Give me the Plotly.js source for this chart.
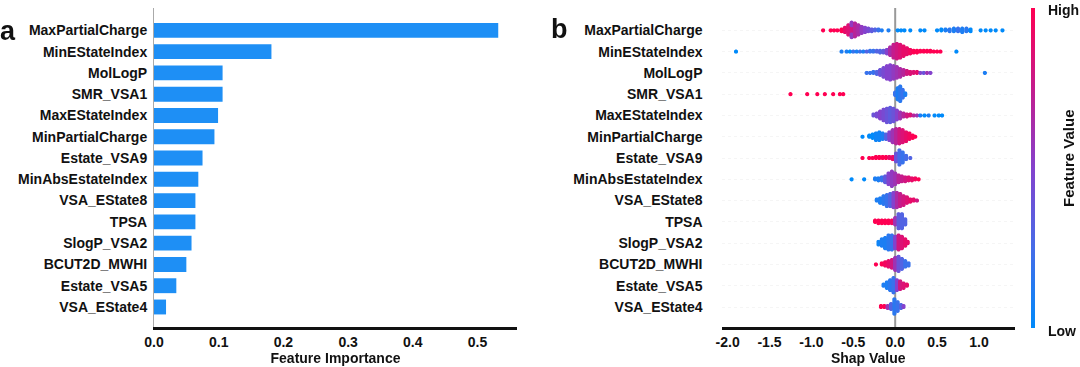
<!DOCTYPE html>
<html>
<head>
<meta charset="utf-8">
<script src="https://cdn.plot.ly/plotly-3.0.1.min.js"></script>
<style>html,body{margin:0;padding:0;background:#fff;}#chart{width:1080px;height:367px;}</style>
</head>
<body>
<div id="chart"></div>
<script>
// ---------- DATA ----------
const features = ['MaxPartialCharge','MinEStateIndex','MolLogP','SMR_VSA1','MaxEStateIndex','MinPartialCharge','Estate_VSA9','MinAbsEstateIndex','VSA_EState8','TPSA','SlogP_VSA2','BCUT2D_MWHI','Estate_VSA5','VSA_EState4'];
const importance = [0.532,0.1815,0.106,0.106,0.099,0.0934,0.075,0.0685,0.064,0.064,0.058,0.050,0.0345,0.0186];

const importanceTicks = [0,0.1,0.2,0.3,0.4,0.5];
const importanceTickText = ['0.0','0.1','0.2','0.3','0.4','0.5'];
const shapTicks = [-2,-1.5,-1,-0.5,0,0.5,1];
const shapTickText = ['-2.0','-1.5','-1.0','-0.5','0.0','0.5','1.0'];

// SHAP values read from the beeswarm: [shap value, number of points, feature value (0 low .. 1 high)]
const shapMaxPartialCharge = [[-0.86,1,1],[-0.77,1,1],[-0.73,1,1],[-0.69,1,1],[-0.64,3,1],[-0.60,6,0.9],[-0.56,12,0.85],[-0.52,10,0.8],[-0.52,8,0.55],[-0.48,16,0.7],[-0.44,12,0.65],[-0.40,8,0.55],[-0.36,6,0.5],[-0.32,4,0.45],[-0.28,3,0.35],[-0.24,2,0.3],[-0.20,2,0.2],[-0.16,1,0.1],[-0.08,1,0.1],[0.03,1,0],[0.07,1,0],[0.11,1,0],[0.18,1,0],[0.30,1,0],[0.35,1,0],[0.50,1,0],[0.55,2,0],[0.60,2,0.1],[0.65,3,0.15],[0.70,4,0.1],[0.75,4,0.2],[0.80,5,0.1],[0.85,4,0.15],[0.90,3,0],[1.02,1,0],[1.08,1,0],[1.14,1,0],[1.20,1,0],[1.28,1,0]];
const shapMinEStateIndex = [[-1.90,1,0],[-0.64,1,0.1],[-0.58,1,0.1],[-0.54,1,0],[-0.50,1,0.2],[-0.46,1,0.1],[-0.42,1,0.2],[-0.38,1,0.1],[-0.34,1,0.3],[-0.30,2,0.2],[-0.26,2,0.2],[-0.22,2,0.3],[-0.18,3,0.3],[-0.14,3,0.35],[-0.10,5,0.5],[-0.06,10,0.65],[-0.02,16,0.75],[0.02,18,0.8],[0.06,16,0.85],[0.10,12,0.9],[0.14,8,0.9],[0.18,5,0.95],[0.22,3,1],[0.26,3,1],[0.30,2,1],[0.34,2,1],[0.38,2,1],[0.42,2,1],[0.46,1,1],[0.50,1,1],[0.54,1,1],[0.73,1,0]];
const shapMolLogP = [[-0.34,1,0.2],[-0.30,1,0.2],[-0.26,2,0.2],[-0.22,3,0.3],[-0.18,6,0.4],[-0.14,10,0.45],[-0.10,14,0.5],[-0.06,16,0.5],[-0.02,14,0.55],[0.02,12,0.6],[0.06,9,0.65],[0.10,6,0.7],[0.14,4,0.8],[0.18,3,0.85],[0.22,2,0.85],[0.26,2,0.9],[0.30,1,0.5],[0.34,1,0.4],[0.38,1,0.6],[0.42,1,0.5],[1.07,1,0.1]];
const shapSMR_VSA1 = [[-1.25,1,1],[-1.05,1,1],[-0.93,1,1],[-0.84,1,1],[-0.74,1,1],[-0.66,1,1],[-0.62,1,1],[0.00,4,0.2],[0.03,14,0.1],[0.06,18,0.15],[0.09,10,0.2],[0.12,3,0.1]];
const shapMaxEStateIndex = [[-0.26,2,0.4],[-0.22,4,0.45],[-0.18,8,0.5],[-0.14,12,0.45],[-0.10,15,0.4],[-0.06,16,0.35],[-0.02,14,0.4],[0.02,10,0.5],[0.06,7,0.6],[0.10,4,0.7],[0.14,3,0.8],[0.18,2,0.85],[0.22,1,0.7],[0.26,1,0.6],[0.30,1,0.1],[0.35,1,0],[0.40,1,0.1],[0.47,1,0],[0.52,1,0],[0.56,1,0]];
const shapMinPartialCharge = [[-0.39,1,0],[-0.31,2,0],[-0.27,4,0],[-0.23,7,0.05],[-0.19,8,0.05],[-0.15,6,0.1],[-0.11,5,0.3],[-0.07,8,0.5],[-0.03,12,0.6],[0.01,14,0.7],[0.05,14,0.8],[0.09,12,0.85],[0.13,9,0.9],[0.17,6,0.95],[0.21,3,1],[0.24,1,1]];
const shapEstate_VSA9 = [[-0.39,1,1],[-0.31,1,1],[-0.27,1,1],[-0.23,2,1],[-0.19,2,1],[-0.15,2,1],[-0.11,2,1],[-0.07,2,0.9],[-0.03,3,0.9],[0.01,8,0.4],[0.05,14,0.25],[0.09,10,0.2],[0.13,4,0.25],[0.18,1,0.3]];
const shapMinAbsEstateIndex = [[-0.52,1,0],[-0.37,1,0],[-0.24,2,0.1],[-0.20,3,0.1],[-0.16,4,0.2],[-0.12,7,0.35],[-0.08,12,0.5],[-0.04,16,0.55],[0.00,12,0.6],[0.04,8,0.7],[0.08,6,0.75],[0.12,5,0.8],[0.16,4,0.85],[0.20,3,0.9],[0.24,2,0.95],[0.28,1,1]];
const shapVSA_EState8 = [[-0.22,2,0.1],[-0.18,5,0.1],[-0.14,8,0.15],[-0.10,11,0.2],[-0.06,12,0.3],[-0.02,14,0.5],[0.02,14,0.65],[0.06,12,0.75],[0.10,9,0.8],[0.14,6,0.85],[0.18,3,0.9],[0.22,2,0.9],[0.26,1,0.8]];
const shapTPSA = [[-0.24,2,1],[-0.20,3,1],[-0.16,3,1],[-0.12,3,1],[-0.08,3,1],[-0.04,3,0.95],[0.00,6,0.6],[0.04,12,0.35],[0.08,12,0.3],[0.12,5,0.3]];
const shapSlogP_VSA2 = [[-0.20,3,0.05],[-0.16,6,0.1],[-0.12,9,0.1],[-0.08,12,0.15],[-0.04,12,0.2],[0.00,10,0.5],[0.04,12,0.8],[0.08,10,0.85],[0.12,6,0.9],[0.15,2,0.9]];
const shapBCUT2D_MWHI = [[-0.23,1,1],[-0.16,2,1],[-0.12,4,0.95],[-0.08,6,0.9],[-0.04,8,0.8],[0.00,12,0.6],[0.04,14,0.4],[0.08,10,0.3],[0.12,6,0.2],[0.16,3,0.2]];
const shapEstate_VSA5 = [[-0.14,2,0.1],[-0.10,6,0.1],[-0.06,10,0.15],[-0.02,14,0.2],[0.02,10,0.5],[0.06,8,0.8],[0.10,5,0.85],[0.14,2,0.9]];
const shapVSA_EState4 = [[-0.17,2,1],[-0.13,2,1],[-0.09,3,0.6],[-0.05,6,0.3],[-0.01,16,0.15],[0.03,10,0.2],[0.07,4,0.3],[0.10,2,0.5]];

const shapRows = [shapMaxPartialCharge,shapMinEStateIndex,shapMolLogP,shapSMR_VSA1,shapMaxEStateIndex,shapMinPartialCharge,shapEstate_VSA9,shapMinAbsEstateIndex,shapVSA_EState8,shapTPSA,shapSlogP_VSA2,shapBCUT2D_MWHI,shapEstate_VSA5,shapVSA_EState4];

// ---------- LAYOUT HELPERS ----------
const W = 1080, H = 367, MT = 8, MB = 40;
const PH = H - MT - MB;
const px = x => x / W;
const py = y => (H - MB - y) / PH;
const n = features.length;

// beeswarm stacking (like shap): points in a bin alternate above/below the row
const bx = [], by = [], bc = [];
shapRows.forEach((row, i) => {
  const yc = n - 1 - i;
  const bins = {};
  row.forEach(([v, cnt, c]) => {
    const key = v.toFixed(3);
    if (!bins[key]) bins[key] = [];
    for (let k = 0; k < cnt; k++) bins[key].push([v, c]);
  });
  let maxLayer = 0;
  Object.values(bins).forEach(b => { maxLayer = Math.max(maxLayer, Math.ceil((b.length - 1) / 2)); });
  const dy = maxLayer > 0 ? 0.36 / maxLayer : 0;
  Object.values(bins).forEach(b => {
    b.forEach(([v, c], k) => {
      const layer = Math.ceil(k / 2) * (k % 2 === 1 ? 1 : -1);
      bx.push(v); by.push(yc + layer * dy); bc.push(c);
    });
  });
});

const colorscale = [[0,'rgb(0,138,250)'],[0.25,'rgb(70,108,232)'],[0.5,'rgb(132,66,205)'],[0.75,'rgb(196,28,140)'],[1,'rgb(255,0,82)']];
const fontFam = 'Liberation Sans, Arial, sans-serif';
const bold = {family: fontFam, size: 14, color: '#111', weight: 'bold'};

const traces = [
  {
    type: 'bar', orientation: 'h', x: importance, y: features,
    marker: {color: '#1E8FF5'}, width: 0.7, xaxis: 'x', yaxis: 'y', hoverinfo: 'none'
  },
  {
    type: 'scattergl', mode: 'markers', x: bx, y: by, xaxis: 'x2', yaxis: 'y2',
    marker: {
      size: 4.3, color: bc, cmin: 0, cmax: 1, colorscale: colorscale, showscale: true,
      colorbar: {
        x: px(1031), xanchor: 'left', xpad: 0, y: py(328), yanchor: 'bottom', ypad: 0,
        lenmode: 'pixels', len: 320, thickness: 4, thicknessmode: 'pixels',
        outlinewidth: 0, showticklabels: false, ticks: ''
      }
    },
    hoverinfo: 'none'
  }
];

const layout = {
  width: W, height: H,
  margin: {l: 0, r: 0, t: MT, b: MB},
  paper_bgcolor: '#fff', plot_bgcolor: '#fff',
  showlegend: false,
  font: {family: fontFam, color: '#111'},
  xaxis: {
    domain: [px(154), px(517)], range: [0, 0.561], anchor: 'y',
    tickvals: importanceTicks, ticktext: importanceTickText,
    showgrid: false, zeroline: false, showline: true, linecolor: '#111', linewidth: 2.5,
    ticks: '', ticklabelstandoff: 1, tickfont: bold,
    title: {text: 'Feature Importance', font: bold, standoff: 1}
  },
  yaxis: {
    domain: [0, 1], anchor: 'x', type: 'category',
    categoryorder: 'array', categoryarray: features.slice().reverse(),
    range: [-0.94, 14.05], showgrid: false, zeroline: false,
    showline: true, linecolor: '#aaa', linewidth: 1,
    ticks: '', tickfont: bold, ticklabelstandoff: 3
  },
  xaxis2: {
    domain: [px(721.5), px(1015)], range: [-2.073, 1.43], anchor: 'y2',
    tickvals: shapTicks, ticktext: shapTickText,
    showgrid: false, zeroline: false, showline: true, linecolor: '#111', linewidth: 2.5,
    ticks: '', ticklabelstandoff: 1, tickfont: bold,
    title: {text: 'Shap Value', font: bold, standoff: 0}
  },
  yaxis2: {
    domain: [0, 1], anchor: 'x2', range: [-0.94, 14.05],
    tickvals: features.map((f, i) => n - 1 - i), ticktext: features,
    showgrid: true, gridcolor: '#eeeeee', gridwidth: 0.6, griddash: 'dot',
    zeroline: false, showline: false, ticks: '', tickfont: bold, ticklabelstandoff: 18
  },
  shapes: [
    {type: 'line', xref: 'x2', yref: 'paper', x0: 0, x1: 0, y0: 0, y1: 1,
     line: {color: '#999', width: 2}, layer: 'below'}
  ],
  annotations: [
    {text: '<b>a</b>', xref: 'paper', yref: 'paper', x: px(8), y: py(31), xanchor: 'center', yanchor: 'middle', showarrow: false, font: {family: fontFam, size: 27, color: '#111'}},
    {text: '<b>b</b>', xref: 'paper', yref: 'paper', x: px(559), y: py(29), xanchor: 'center', yanchor: 'middle', showarrow: false, font: {family: fontFam, size: 27, color: '#111'}},
    {text: 'High', xref: 'paper', yref: 'paper', x: px(1046), y: py(10), xanchor: 'left', yanchor: 'middle', showarrow: false, font: bold},
    {text: 'Low', xref: 'paper', yref: 'paper', x: px(1046), y: py(331), xanchor: 'left', yanchor: 'middle', showarrow: false, font: bold},
    {text: 'Feature Value', xref: 'paper', yref: 'paper', x: px(1068), y: py(158), xanchor: 'center', yanchor: 'middle', textangle: -90, showarrow: false, font: Object.assign({}, bold, {size: 15})}
  ]
};

Plotly.newPlot('chart', traces, layout, {staticPlot: true, displayModeBar: false});
</script>
</body>
</html>
